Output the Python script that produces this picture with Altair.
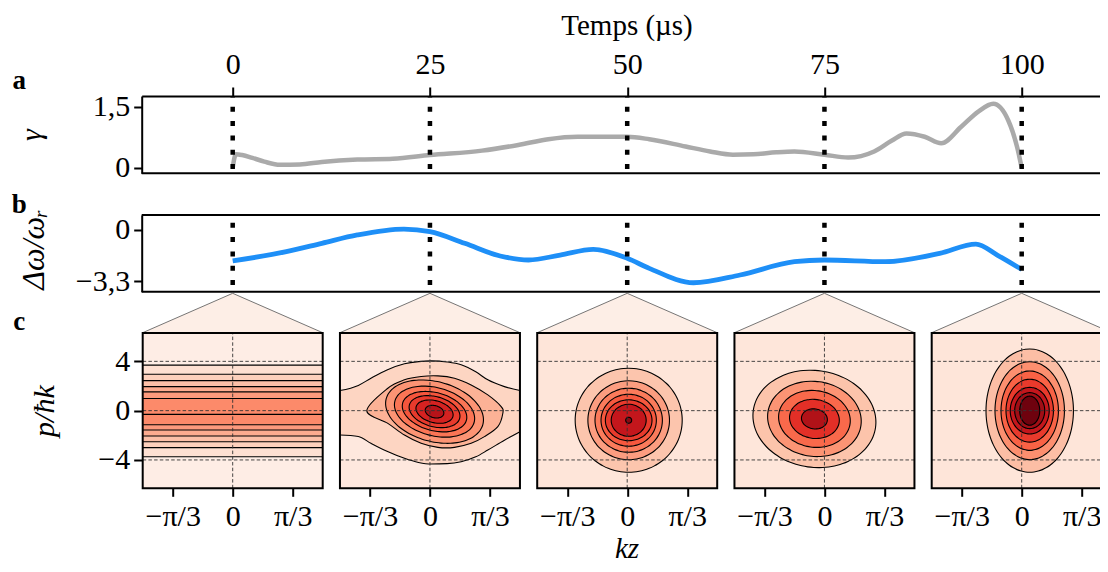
import numpy as np
import pandas as pd
import altair as alt

FONT = "Liberation Serif"

# ---------------- values ----------------
snap_times = [0, 25, 50, 75, 100]
snap_bg = ["#feede5", "#fee8de", "#fee5d9", "#fee6da", "#fee5d9"]

gamma_t = [0.0, 0.4, 1.2, 2.5, 4.0, 6.0, 8.5, 11.3, 15.8, 20.3, 25.0, 31.6, 36.2, 40.0, 43.7,
           50.0, 52.8, 57.4, 60.5, 63.4, 66.0, 68.9, 71.2, 75.0, 78.0, 81.3, 83.5, 85.4, 87.7,
           89.8, 92.3, 94.5, 96.4, 98.3, 99.4, 100.0]
gamma_v = [0.00, 0.33, 0.31, 0.24, 0.15, 0.07, 0.08, 0.14, 0.20, 0.22, 0.31, 0.42, 0.56, 0.70, 0.76,
           0.76, 0.70, 0.52, 0.40, 0.32, 0.33, 0.38, 0.40, 0.32, 0.25, 0.40, 0.66, 0.84, 0.76,
           0.60, 1.00, 1.38, 1.57, 1.16, 0.52, 0.00]

dw_t = [0, 6.8, 11.3, 15.8, 21.7, 25, 29.4, 33.9, 37.5, 41.5, 45.7, 50, 52.8, 58.4, 64.3,
        71.2, 75, 82.7, 89.6, 94.2, 96.9, 100]
dw_v = [-2.0, -1.40, -0.86, -0.32, 0.06, -0.11, -0.86, -1.68, -1.94, -1.62, -1.25, -1.83, -2.48,
        -3.41, -2.91, -2.05, -1.94, -2.05, -1.51, -0.91, -1.62, -2.55]

# panel c1 (t = 0): horizontal bands
p1_top = [3.69, 2.95, 2.44, 1.95, 1.52, 0.98]
p1_bot = [-3.74, -3.00, -2.52, -2.06, -1.57, -1.14]
p1_fill = ["#fee0d2", "#fdd0bc", "#fcbfa7", "#fcab8f", "#fc9a7d", "#fc8a6a"]
p1_mid = [-0.30]

# panel c2 (t = 25): open outer band, lens, tilted ellipses
p2_band_kz = [-1.571, -1.25, -1.03, -0.75, -0.445, -0.2, 0.02, 0.3, 0.545, 0.8, 1.01, 1.3, 1.571]
p2_band_top = [1.63, 2.05, 2.63, 3.30, 3.80, 3.98, 4.04, 3.95, 3.72, 3.15, 2.50, 1.95, 1.63]
p2_band_bot = [-1.98, -2.10, -2.65, -3.30, -3.87, -4.20, -4.33, -4.30, -4.14, -3.75, -3.20, -2.40, -1.71]
p2_band_fill = "#fdd5c2"
p2_lens_kz = [-1.102, -0.735, -0.445, -0.154, 0.138, 0.428, 0.719, 1.01, 1.243, 1.272, 1.185,
              0.951, 0.719, 0.428, 0.138, -0.154, -0.445, -0.735]
p2_lens_p = [0.0, 1.82, 2.50, 2.77, 2.82, 2.63, 2.09, 1.28, 0.33, -0.21, -1.30,
             -2.11, -2.65, -2.98, -2.98, -2.65, -1.98, -1.03]
p2_lens_fill = "#fcb296"
p2_center = (0.08, -0.08)
p2_tilt = -15
p2_a = [0.873, 0.716, 0.576, 0.454, 0.332, 0.166]
p2_b = [2.43, 1.95, 1.54, 1.22, 0.89, 0.49]
p2_fill = ["#fc9474", "#fb7555", "#f5553c", "#e83a2c", "#d52221", "#b71319"]

# panel c3 (t = 50)
p3_center = (0.026, -0.78)
p3_tilt = 0
p3_a = [0.934, 0.712, 0.588, 0.483, 0.407, 0.305, 0.052]
p3_b = [4.22, 3.20, 2.60, 2.11, 1.66, 1.30, 0.24]
p3_fill = ["#fcc5ad", "#fc9d80", "#fb7b5b", "#f6583e", "#e83a2c", "#c4161c", "#8a0812"]

# panel c4 (t = 75)
p4_center = (-0.175, -0.67)
p4_tilt = -8
p4_a = [1.077, 0.820, 0.628, 0.436, 0.227]
p4_b = [3.93, 3.04, 2.30, 1.58, 0.81]
p4_fill = ["#fcc4ab", "#fc9474", "#f9694b", "#e32f27", "#b11218"]

# panel c5 (t = 100)
p5_center = (0.14, 0.0)
p5_tilt = 0
p5_a = [0.763, 0.606, 0.501, 0.414, 0.340, 0.262, 0.175]
p5_b = [5.00, 3.97, 3.22, 2.55, 1.89, 1.46, 1.18]
p5_fill = ["#fcbea5", "#fc8f6f", "#f96245", "#e93a2c", "#c4161c", "#a10e15", "#6f020e"]

# ---------------- layout ----------------
W, H = 958.3, 392.3
T0_PX, PX_PER_T = 91.0, 7.89
XMIN = -T0_PX / PX_PER_T
XMAX = XMIN + W / PX_PER_T
PX_PER_RAD = 180 / np.pi
PX_PER_P = 12.33
KZ2T = PX_PER_RAD / PX_PER_T
HW = (np.pi / 2) * KZ2T
P_LIM = 6.3
A_DOM, B_DOM = [-0.138, 1.763], [-3.99, 0.97]


def xsc():
    return alt.Scale(domain=[XMIN, XMAX], nice=False, zero=False)


def ysA():
    return alt.Scale(domain=A_DOM, range=[77.3, 0], nice=False, zero=False)


def ysB():
    return alt.Scale(domain=B_DOM, range=[195.7, 119], nice=False, zero=False)


def ysT():
    return alt.Scale(domain=[0, 1], range=[236.7, 197.3], nice=False, zero=False)


def ysC():
    return alt.Scale(domain=[-P_LIM, P_LIM], range=[392.3, 237], nice=False, zero=False)


def ax(**kw):
    d = dict(labelFont=FONT, labelFontSize=30, labelColor="black", titleFont=FONT,
             titleFontSize=30, titleColor="black", titleFontWeight="normal", tickColor="black",
             tickWidth=2, tickSize=8, domainColor="black", domainWidth=2, grid=False,
             labelOverlap=False, zindex=2, domain=True, ticks=True, labels=True)
    d.update(kw)
    return alt.Axis(**d)


# ---------------- panel a ----------------
dfA = pd.DataFrame({"t": gamma_t, "g": gamma_v})
dfSnap = pd.DataFrame({"t": snap_times})

lineA = alt.Chart(dfA).mark_line(color="#aaaaaa", strokeWidth=4.5, interpolate="monotone").encode(
    x=alt.X("t:Q", scale=xsc(), axis=ax(orient="top", values=snap_times, title="Temps (µs)",
                                          tickSize=9, labelPadding=8, titleX=484.8, titleY=-62,
                                          titleFontSize=29,
                                          titleBaseline="alphabetic", titleAngle=0)),
    y=alt.Y("g:Q", scale=ysA(), axis=ax(orient="left", values=[0, 1.5],
                                        labelExpr="replace(format(datum.value, '.1~f'), '.', ',')",
                                        title="γ", titleFontStyle="italic", titleAngle=-90,
                                        titleX=-101, titleY=38.6, titleBaseline="alphabetic",
                                        labelPadding=4)),
)
dotsA = alt.Chart(dfSnap).mark_rule(color="black", strokeWidth=4.5, strokeDash=[5, 9.3],
                                    strokeDashOffset=10).encode(
    x=alt.X("t:Q", scale=xsc(), axis=None),
    y=alt.Y(datum=A_DOM[0], scale=ysA(), axis=None), y2=alt.Y2(datum=A_DOM[1]))
frameA = alt.Chart(pd.DataFrame({"y": [A_DOM[0]]})).mark_rule(color="black", strokeWidth=2).encode(
    x=alt.X(datum=XMIN, scale=xsc(), axis=None), x2=alt.X2(datum=XMAX),
    y=alt.Y("y:Q", scale=ysA(), axis=None))

# ---------------- panel b ----------------
dfB = pd.DataFrame({"t": dw_t, "d": dw_v})
lineB = alt.Chart(dfB).mark_line(color="#1e8ff7", strokeWidth=4.8, interpolate="monotone").encode(
    x=alt.X("t:Q", scale=xsc(), axis=None),
    y=alt.Y("d:Q", scale=ysB(), axis=ax(orient="left", values=[0, -3.3],
                                        labelExpr="datum.value == 0 ? '0' : '−3,3'",
                                        title="Δω/ωᵣ", titleFontStyle="italic", titleAngle=-90,
                                        titleFontSize=32,
                                        titleX=-98, titleY=153, titleBaseline="alphabetic",
                                        labelPadding=4)),
)
dotsB = alt.Chart(dfSnap).mark_rule(color="black", strokeWidth=4.5, strokeDash=[5, 9.3],
                                    strokeDashOffset=7.6).encode(
    x=alt.X("t:Q", scale=xsc(), axis=None),
    y=alt.Y(datum=B_DOM[0], scale=ysB(), axis=None), y2=alt.Y2(datum=B_DOM[1]))
frameB = alt.Chart(pd.DataFrame({"y": B_DOM})).mark_rule(color="black", strokeWidth=2).encode(
    x=alt.X(datum=XMIN, scale=xsc(), axis=None), x2=alt.X2(datum=XMAX),
    y=alt.Y("y:Q", scale=ysB(), axis=None))

# ---------------- zoom triangles ----------------
tri_rows = []
for t in snap_times:
    for o, (xx, yy) in enumerate([(t + HW, 0), (t, 1), (t - HW, 0)]):
        tri_rows.append({"t": t, "o": o, "x": xx, "y": yy})
dfTri = pd.DataFrame(tri_rows)
tri = alt.Chart(dfTri).mark_line(stroke="#666666", strokeWidth=0.9, fill="#fdeee6").encode(
    x=alt.X("x:Q", scale=xsc(), axis=None), y=alt.Y("y:Q", scale=ysT(), axis=None),
    order="o:Q", detail="t:N")

# ---------------- contour panels ----------------
dfPan = pd.DataFrame({"t": snap_times, "bg": snap_bg})
dfPan["x0"] = dfPan["t"] - HW
dfPan["x1"] = dfPan["t"] + HW

tick_vals = []
for t in snap_times:
    tick_vals += [float(t - np.pi / 3 * KZ2T), float(t), float(t + np.pi / 3 * KZ2T)]

label_expr = ("abs(datum.value - 25*round(datum.value/25)) < 1 ? '0' : "
              "(datum.value - 25*round(datum.value/25) < 0 ? '−π/3' : 'π/3')")

bgC = alt.Chart(dfPan).mark_rect().encode(
    x=alt.X("x0:Q", scale=xsc(), axis=ax(orient="bottom", values=tick_vals, labelExpr=label_expr,
                                           domain=False, tickSize=8, labelPadding=5, title="kz",
                                           titleFontStyle="italic", titleFontSize=29,
                                           titleX=484.8, titleY=69.5,
                                           titleBaseline="alphabetic")),
    x2="x1:Q",
    y=alt.Y(datum=-P_LIM, scale=ysC(), axis=ax(orient="left", values=[-4, 0, 4], domain=False,
                                               labelExpr="datum.value < 0 ? '−' + abs(datum.value) : '' + datum.value",
                                               title="p/ħk", titleFontStyle="italic", titleAngle=-90,
                                               titleX=-88, titleY=314.6, titleBaseline="alphabetic",
                                               labelPadding=4)),
    y2=alt.Y2(datum=P_LIM),
    fill=alt.Fill("bg:N", scale=None),
)

# panel 1 bands
t1 = snap_times[0]
dfP1 = pd.DataFrame({"top": p1_top, "bot": p1_bot, "fill": p1_fill})
dfP1["x0"] = t1 - HW
dfP1["x1"] = t1 + HW
p1rect = alt.Chart(dfP1).mark_rect().encode(
    x=alt.X("x0:Q", scale=xsc(), axis=None), x2="x1:Q",
    y=alt.Y("top:Q", scale=ysC(), axis=None), y2="bot:Q",
    fill=alt.Fill("fill:N", scale=None))
dfP1l = pd.DataFrame({"p": p1_top + p1_bot + p1_mid})
dfP1l["x0"] = t1 - HW
dfP1l["x1"] = t1 + HW
p1line = alt.Chart(dfP1l).mark_rule(color="black", strokeWidth=1.1).encode(
    x=alt.X("x0:Q", scale=xsc(), axis=None), x2="x1:Q", y=alt.Y("p:Q", scale=ysC(), axis=None))

# panel 2 open band
t2 = snap_times[1]
dfBand = pd.DataFrame({"x": [t2 + k * KZ2T for k in p2_band_kz], "top": p2_band_top,
                       "bot": p2_band_bot})
p2area = alt.Chart(dfBand).mark_area(fill=p2_band_fill, interpolate="monotone").encode(
    x=alt.X("x:Q", scale=xsc(), axis=None), y=alt.Y("top:Q", scale=ysC(), axis=None), y2="bot:Q")
p2edge = alt.Chart(dfBand).transform_fold(["top", "bot"], as_=["side", "p"]).mark_line(
    color="black", strokeWidth=1.1, interpolate="monotone").encode(
    x=alt.X("x:Q", scale=xsc(), axis=None), y=alt.Y("p:Q", scale=ysC(), axis=None), detail="side:N")


# closed contours
def ellipse(c, a, b, tilt, n=64):
    th = np.linspace(0, 2 * np.pi, n, endpoint=False)
    X = a * PX_PER_RAD * np.cos(th)
    Y = b * PX_PER_P * np.sin(th)
    ph = np.radians(tilt)
    Xr = X * np.cos(ph) - Y * np.sin(ph)
    Yr = X * np.sin(ph) + Y * np.cos(ph)
    return c[0] + Xr / PX_PER_RAD, c[1] + Yr / PX_PER_P


rows = []
cid = 0


def add(t, lvl, fill, kz, p):
    global cid
    for o, (k, pp) in enumerate(zip(kz, p)):
        rows.append({"cid": cid, "lvl": lvl, "fill": fill, "o": o, "x": float(t + k * KZ2T),
                     "p": float(pp)})
    cid += 1


add(t2, 2, p2_lens_fill, p2_lens_kz, p2_lens_p)
for i, (a, b, f) in enumerate(zip(p2_a, p2_b, p2_fill)):
    add(t2, 3 + i, f, *ellipse(p2_center, a, b, p2_tilt))
for t, c, tilt, A_, B_, F_ in [(snap_times[2], p3_center, p3_tilt, p3_a, p3_b, p3_fill),
                               (snap_times[3], p4_center, p4_tilt, p4_a, p4_b, p4_fill),
                               (snap_times[4], p5_center, p5_tilt, p5_a, p5_b, p5_fill)]:
    for i, (a, b, f) in enumerate(zip(A_, B_, F_)):
        add(t, 1 + i, f, *ellipse(c, a, b, tilt))
dfCont = pd.DataFrame(rows)

cont_layers = []
for lvl in sorted(dfCont["lvl"].unique()):
    cont_layers.append(
        alt.Chart(dfCont).transform_filter(alt.datum.lvl == int(lvl)).mark_line(
            stroke="black", strokeWidth=1.1, interpolate="cardinal-closed").encode(
            x=alt.X("x:Q", scale=xsc(), axis=None), y=alt.Y("p:Q", scale=ysC(), axis=None),
            order="o:Q", detail="cid:N", fill=alt.Fill("fill:N", scale=None)))

# dashed guides
grid_rows = []
for t in snap_times:
    for p in [-4, 0, 4]:
        grid_rows.append({"x0": t - HW, "x1": t + HW, "y0": p, "y1": p})
    grid_rows.append({"x0": t, "x1": t, "y0": -P_LIM, "y1": P_LIM})
dfGrid = pd.DataFrame(grid_rows)
gridC = alt.Chart(dfGrid).mark_rule(color="#333333", strokeWidth=0.9, strokeDash=[3.5, 2.2]).encode(
    x=alt.X("x0:Q", scale=xsc(), axis=None), x2="x1:Q",
    y=alt.Y("y0:Q", scale=ysC(), axis=None), y2="y1:Q")

frameC = alt.Chart(dfPan).mark_rect(fillOpacity=0, stroke="black", strokeWidth=2).encode(
    x=alt.X("x0:Q", scale=xsc(), axis=None), x2="x1:Q",
    y=alt.Y(datum=-P_LIM, scale=ysC(), axis=None), y2=alt.Y2(datum=P_LIM))


# ---------------- panel letters ----------------
def letter(txt, x, y):
    return alt.Chart(alt.Data(values=[{}])).mark_text(
        text=txt, x=x, y=y, font=FONT, fontSize=27, fontWeight="bold", align="center",
        baseline="alphabetic", color="black")


layers = [lineA, dotsA, frameA, lineB, dotsB, frameB, tri, bgC, p1rect, p1line, p2area, p2edge,
          *cont_layers, gridC, frameC,
          letter("a", -122.5, -7), letter("b", -122.5, 117), letter("c", -122.5, 234)]

chart = alt.layer(*layers).resolve_scale(y="independent").resolve_axis(
    x="independent", y="independent").properties(
    width=W, height=H,
    padding={"left": 133.7, "top": 88, "right": 0, "bottom": 75.7},
    autosize=alt.AutoSizeParams(type="none"),
).configure(font=FONT, background="white").configure_view(
    stroke=None, strokeWidth=0
).configure_axis(
    domain=False, ticks=False, labels=False, grid=False
)

chart.save("out.html", embed_options={"renderer": "svg", "actions": False})
